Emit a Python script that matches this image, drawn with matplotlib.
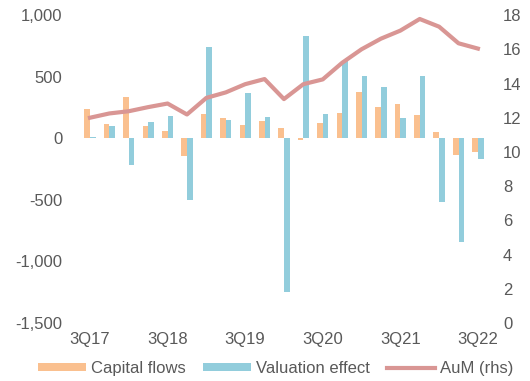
import numpy as np
import matplotlib.pyplot as plt

# Quarterly data, 3Q17 - 3Q22
quarters = ["3Q17", "4Q17", "1Q18", "2Q18", "3Q18", "4Q18", "1Q19", "2Q19", "3Q19", "4Q19",
            "1Q20", "2Q20", "3Q20", "4Q20", "1Q21", "2Q21", "3Q21", "4Q21", "1Q22", "2Q22", "3Q22"]
capital_flows = [240, 116, 332, 97, 57, -140, 197, 165, 108, 138, 84, -14,
                 124, 203, 378, 254, 275, 189, 54, -138, -108]
valuation_effect = [14, 100, -219, 132, 181, -497, 740, 149, 365, 176, -1250, 832,
                    197, 626, 502, 413, 167, 505, -518, -845, -170]
aum = [12.0, 12.25, 12.38, 12.62, 12.83, 12.19, 13.16, 13.48, 13.96, 14.26, 13.09, 13.96,
       14.24, 15.21, 16.0, 16.62, 17.09, 17.77, 17.32, 16.35, 16.04]

orange = "#FAC08F"
blue = "#92CDDC"
red = "#D99694"
grey = "#595959"

plt.rcParams['font.family'] = ['Liberation Sans', 'DejaVu Sans']
plt.rcParams['font.size'] = 12

fig = plt.figure(figsize=(5.3, 3.81), dpi=100)
ax = fig.add_axes([0.1515, 0.152, 0.7685, 0.8085])

x = np.arange(len(quarters))
w = 0.29
ax.bar(x - w / 2, capital_flows, w, color=orange, label="Capital flows")
ax.bar(x + w / 2, valuation_effect, w, color=blue, label="Valuation effect")

ax.set_xlim(-0.5, len(quarters) - 0.5)
ax.set_ylim(-1500, 1000)
ax.set_yticks(np.arange(-1500, 1001, 500))
ax.set_yticklabels([f"{v:,}" for v in range(-1500, 1001, 500)])
ax.set_xticks(x[::4])
ax.set_xticklabels(quarters[::4])

# AuM on the right-hand scale
ax2 = ax.twinx()
ax2.plot(x, aum, color=red, lw=3, label="AuM (rhs)")
ax2.set_ylim(0, 18)
ax2.set_yticks(range(0, 19, 2))

for a in (ax, ax2):
    for s in a.spines.values():
        s.set_visible(False)
ax.tick_params(axis='y', length=0, pad=13, colors=grey)
ax.tick_params(axis='x', length=0, pad=6.5, colors=grey)
ax2.tick_params(axis='y', length=0, pad=11, colors=grey)

h1, l1 = ax.get_legend_handles_labels()
h2, l2 = ax2.get_legend_handles_labels()
fig.legend(h1 + h2, l1 + l2, loc='center', bbox_to_anchor=(0.52, 0.032), ncol=3,
           frameon=False, handlelength=2.9, handleheight=0.35, handletextpad=0.3,
           columnspacing=1.0, labelcolor=grey, borderaxespad=0)

fig.savefig("out.png", dpi=100)
